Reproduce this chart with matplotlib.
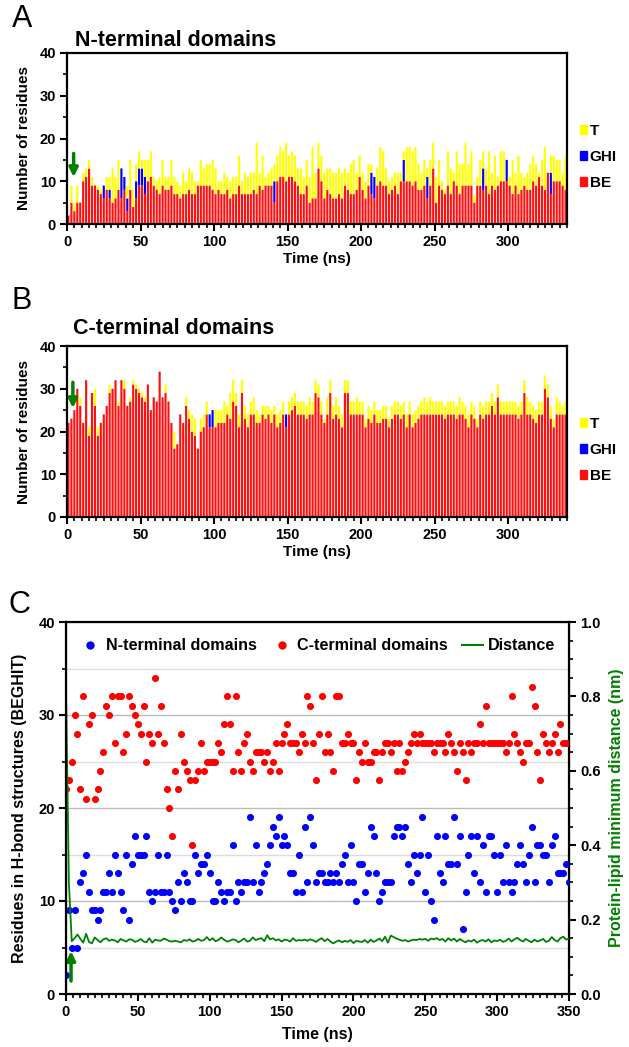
import numpy as np
import matplotlib
matplotlib.use('Agg')
import matplotlib.pyplot as plt
from matplotlib.patches import Patch
from matplotlib.lines import Line2D

plt.rcParams['font.family'] = ['Liberation Sans', 'DejaVu Sans']
plt.rcParams['font.weight'] = 'bold'
plt.rcParams['axes.labelweight'] = 'bold'

# one frame every 2 ns, 0..350 ns
time = np.arange(0, 351, 2)

# residues in H-bond structures (BEGHIT)
n_total = [2, 9, 5, 9, 5, 12, 13, 15, 11, 9,
           9, 8, 9, 11, 11, 13, 11, 15, 13, 11,
           9, 15, 8, 14, 17, 15, 15, 15, 17, 11,
           10, 11, 15, 11, 11, 15, 11, 10, 9, 12,
           10, 13, 12, 10, 10, 15, 13, 14, 14, 15,
           13, 10, 10, 12, 11, 10, 11, 11, 16, 10,
           12, 11, 12, 12, 19, 12, 16, 11, 12, 13,
           14, 16, 18, 17, 19, 16, 17, 16, 13, 13,
           11, 15, 11, 18, 12, 19, 16, 12, 13, 13,
           12, 12, 13, 12, 13, 12, 14, 15, 12, 16,
           12, 10, 14, 14, 11, 13, 18, 17, 13, 10,
           11, 12, 12, 12, 17, 18, 18, 17, 18, 14,
           12, 15, 13, 15, 19, 11, 15, 10, 8, 17,
           13, 12, 17, 14, 14, 19, 14, 17, 7, 11,
           15, 17, 13, 17, 12, 16, 11, 17, 17, 15,
           11, 15, 12, 16, 12, 11, 12, 14, 16, 14,
           12, 15, 18, 12, 16, 16, 15, 15, 12, 16,
           17, 13, 13, 13, 14, 12]

c_total = [22, 23, 25, 30, 28, 22, 32, 21, 29, 30,
           21, 22, 24, 26, 31, 30, 32, 27, 32, 32,
           26, 28, 32, 31, 30, 29, 28, 31, 25, 28,
           27, 34, 28, 31, 27, 22, 20, 17, 24, 22,
           28, 25, 24, 23, 16, 23, 24, 27, 24, 25,
           25, 25, 25, 27, 26, 29, 32, 29, 24, 32,
           26, 24, 27, 28, 25, 24, 26, 26, 26, 25,
           26, 24, 25, 27, 24, 27, 28, 29, 27, 27,
           27, 26, 28, 27, 32, 31, 27, 23, 28, 32,
           26, 28, 26, 24, 32, 32, 27, 27, 28, 27,
           27, 23, 26, 25, 27, 25, 25, 26, 26, 23,
           26, 27, 27, 26, 27, 24, 27, 24, 25, 26,
           27, 28, 27, 28, 27, 27, 27, 27, 26, 27,
           27, 27, 26, 28, 27, 26, 24, 27, 26, 23,
           27, 26, 27, 27, 29, 27, 31, 27, 27, 27,
           27, 27, 27, 26, 27, 32, 28, 27, 26, 25,
           27, 27, 33, 31, 26, 23, 28, 27, 26, 27,
           28, 26, 29, 27, 27, 27]

# protein-lipid minimum distance (nm)
distance = [0.82, 0.30, 0.142, 0.150, 0.160, 0.148, 0.138, 0.162, 0.140, 0.136,
            0.152, 0.145, 0.139, 0.147, 0.150, 0.143, 0.146, 0.144, 0.139, 0.148,
            0.144, 0.141, 0.147, 0.146, 0.140, 0.143, 0.148, 0.141, 0.139, 0.150,
            0.138, 0.146, 0.144, 0.143, 0.149, 0.146, 0.142, 0.141, 0.143, 0.141,
            0.139, 0.145, 0.143, 0.147, 0.141, 0.143, 0.148, 0.143, 0.145, 0.153,
            0.144, 0.150, 0.142, 0.145, 0.152, 0.146, 0.141, 0.143, 0.147, 0.145,
            0.139, 0.144, 0.149, 0.141, 0.143, 0.152, 0.145, 0.148, 0.150, 0.142,
            0.158, 0.147, 0.150, 0.144, 0.147, 0.141, 0.146, 0.145, 0.141, 0.150,
            0.143, 0.145, 0.144, 0.146, 0.143, 0.147, 0.144, 0.140, 0.146, 0.150,
            0.142, 0.148, 0.141, 0.136, 0.141, 0.144, 0.139, 0.143, 0.140, 0.145,
            0.137, 0.143, 0.141, 0.140, 0.145, 0.138, 0.146, 0.140, 0.144, 0.149,
            0.142, 0.154, 0.138, 0.157, 0.153, 0.149, 0.146, 0.143, 0.145, 0.141,
            0.144, 0.146, 0.145, 0.148, 0.146, 0.148, 0.143, 0.149, 0.147, 0.150,
            0.145, 0.148, 0.141, 0.150, 0.144, 0.149, 0.141, 0.148, 0.143, 0.139,
            0.144, 0.141, 0.146, 0.138, 0.143, 0.145, 0.141, 0.147, 0.139, 0.144,
            0.142, 0.146, 0.140, 0.143, 0.149, 0.141, 0.147, 0.151, 0.145, 0.141,
            0.148, 0.143, 0.139, 0.146, 0.141, 0.144, 0.148, 0.140, 0.143, 0.153,
            0.145, 0.141, 0.150, 0.154, 0.146, 0.149]

# BE residues per frame (bar panels cover 0..338 ns)
n_be = [2, 5, 3, 5, 5, 10, 11, 13, 9, 9,
        8, 7, 6, 8, 6, 5, 6, 8, 6, 8,
        3, 8, 4, 6, 9, 9, 7, 10, 11, 9,
        8, 7, 9, 8, 8, 9, 7, 7, 6, 7,
        7, 8, 7, 7, 9, 9, 9, 9, 9, 8,
        7, 8, 7, 7, 8, 6, 7, 7, 9, 7,
        7, 7, 7, 8, 7, 9, 8, 9, 9, 9,
        5, 10, 11, 11, 10, 11, 11, 10, 9, 7,
        7, 9, 5, 6, 6, 13, 10, 6, 8, 7,
        6, 6, 7, 6, 9, 8, 7, 7, 8, 11,
        8, 6, 9, 7, 6, 9, 10, 9, 9, 7,
        8, 9, 7, 10, 10, 10, 10, 9, 10, 8,
        8, 9, 6, 9, 13, 5, 9, 8, 7, 9,
        7, 10, 9, 7, 9, 9, 9, 9, 5, 9,
        9, 8, 9, 7, 9, 8, 9, 10, 10, 10,
        9, 7, 9, 7, 8, 9, 8, 8, 10, 9,
        11, 9, 8, 12, 7, 10, 10, 10, 9, 8]

c_be = [22, 23, 25, 30, 26, 22, 32, 19, 29, 26,
        19, 22, 24, 26, 29, 30, 32, 26, 32, 30,
        26, 27, 31, 30, 29, 28, 27, 31, 25, 28,
        27, 34, 28, 29, 27, 22, 16, 17, 24, 22,
        26, 23, 20, 19, 16, 20, 21, 24, 21, 21,
        21, 22, 22, 22, 24, 23, 27, 26, 21, 29,
        23, 21, 24, 24, 22, 22, 24, 23, 24, 22,
        24, 21, 22, 24, 21, 24, 25, 26, 24, 24,
        24, 23, 24, 24, 29, 28, 24, 22, 24, 29,
        23, 24, 23, 21, 29, 29, 24, 24, 24, 24,
        24, 21, 23, 22, 24, 22, 22, 23, 23, 21,
        23, 24, 24, 23, 24, 21, 24, 21, 22, 23,
        24, 24, 24, 24, 24, 24, 24, 24, 23, 24,
        24, 24, 23, 24, 24, 23, 21, 24, 23, 21,
        24, 23, 24, 24, 26, 24, 28, 24, 24, 24,
        24, 24, 24, 23, 24, 29, 24, 24, 23, 22,
        24, 24, 30, 28, 23, 21, 24, 24, 24, 24]

# frames with G/H/I helices (frame index, residues)
n_ghi_frame = [12, 14, 18, 19, 20, 23, 24, 25, 26, 70, 103, 104, 114, 122, 141, 149, 164]
n_ghi_count = [3, 2, 7, 3, 3, 4, 4, 4, 4, 5, 5, 5, 5, 5, 5, 5, 5]
c_ghi_frame = [48, 49, 74]
c_ghi_count = [3, 4, 3]

green = '#008000'
arrow_kw = dict(arrowstyle='-|>', color=green, lw=2.5, mutation_scale=13, shrinkA=0, shrinkB=0)


def style_axis(ax, xmax, xlab_max):
    ax.set_xlim(0, xmax)
    ax.set_ylim(0, 40)
    ax.set_xticks(np.arange(0, xlab_max + 1, 50))
    ax.set_xticks(np.arange(0, xmax + 1, 5), minor=True)
    ax.set_yticks(np.arange(0, 41, 10))
    ax.set_yticks(np.arange(0, 41, 5), minor=True)
    ax.tick_params(which='major', length=5, width=1.5, labelsize=10.5, pad=3)
    ax.tick_params(which='minor', length=3, width=1.2)
    for s in ax.spines.values():
        s.set_linewidth(1.6)


def bar_panel(ax, total, be, ghi_frame, ghi_count):
    nb = len(be)
    x = time[:nb] + 1
    be = np.array(be, dtype=float)
    ghi = np.zeros(nb)
    ghi[ghi_frame] = ghi_count
    t = np.clip(np.array(total[:nb]) - be - ghi, 0, None)
    kw = dict(width=1.45, linewidth=0, snap=False)
    ax.bar(x, be, color='#ff1010', **kw)
    ax.bar(x, ghi, bottom=be, color='#0000ff', **kw)
    ax.bar(x, t, bottom=be + ghi, color='#ffff00', **kw)
    style_axis(ax, 340, 300)
    ax.set_ylabel('Number of residues', fontsize=11, labelpad=6)
    ax.set_xlabel('Time (ns)', fontsize=11, labelpad=2)
    handles = [Patch(color='#ffff00'), Patch(color='#0000ff'), Patch(color='#ff1010')]
    ax.legend(handles, ['T', 'GHI', 'BE'], loc='center left', bbox_to_anchor=(1.01, 0.392),
              frameon=False, fontsize=11, handlelength=0.5, handleheight=0.5,
              handletextpad=0.15, labelspacing=0.8, borderpad=0)


fig = plt.figure(figsize=(6.29, 10.47), dpi=100)

axA = fig.add_axes([67 / 629, 1 - 224 / 1047, 500 / 629, 171 / 1047])
bar_panel(axA, n_total, n_be, n_ghi_frame, n_ghi_count)
axA.annotate('', xy=(4.5, 11), xytext=(4.5, 16.5), arrowprops=arrow_kw)

axB = fig.add_axes([67 / 629, 1 - 517 / 1047, 500 / 629, 171 / 1047])
bar_panel(axB, c_total, c_be, c_ghi_frame, c_ghi_count)
axB.annotate('', xy=(4, 25.5), xytext=(4, 31.5), arrowprops=arrow_kw)

fig.text(12 / 629, 1 - 19 / 1047, 'A', fontsize=22, fontweight='normal', va='center')
fig.text(75 / 629, 1 - 41 / 1047, 'N-terminal domains', fontsize=15.5, va='center')
fig.text(12 / 629, 1 - 301 / 1047, 'B', fontsize=22, fontweight='normal', va='center')
fig.text(73 / 629, 1 - 329 / 1047, 'C-terminal domains', fontsize=15.5, va='center')
fig.text(8 / 629, 1 - 605 / 1047, 'C', fontsize=22, fontweight='normal', va='center')

# panel C
axC = fig.add_axes([66 / 629, 1 - 994 / 1047, 503 / 629, 372 / 1047])
for yv in [5, 15, 25, 35]:
    axC.axhline(yv, color='#dddddd', lw=1.0, zorder=0)
for yv in [10, 20, 30]:
    axC.axhline(yv, color='#bbbbbb', lw=1.0, zorder=0)
axC.scatter(time, n_total, s=26, color='#0000ff', zorder=3, linewidths=0)
axC.scatter(time, c_total, s=26, color='#ff0000', zorder=3, linewidths=0)
style_axis(axC, 350, 350)
axC.set_ylabel('Residues in H-bond structures (BEGHIT)', fontsize=11.5, labelpad=8)
axC.set_xlabel('Time (ns)', fontsize=11.5, labelpad=6)
axC.annotate('', xy=(3.5, 4.6), xytext=(3.5, 1.4), arrowprops=arrow_kw)

axD = axC.twinx()
axD.plot(time, distance, color=green, lw=1.3)
axD.set_ylim(0, 1.0)
axD.set_yticks(np.arange(0, 1.01, 0.2))
axD.set_yticks(np.arange(0, 1.01, 0.05), minor=True)
axD.set_yticklabels(['%.1f' % v for v in np.arange(0, 1.01, 0.2)])
axD.tick_params(which='major', length=5, width=1.5, labelsize=10.5, pad=3)
axD.tick_params(which='minor', length=3, width=1.2)
axD.set_ylabel('Protein-lipid minimum distance (nm)', fontsize=11.5, color=green, labelpad=6)

handles = [Line2D([], [], marker='o', ls='', color='#0000ff', markersize=5),
           Line2D([], [], marker='o', ls='', color='#ff0000', markersize=5),
           Line2D([], [], color=green, lw=1.5)]
axC.legend(handles, ['N-terminal domains', 'C-terminal domains', 'Distance'],
           loc='upper center', bbox_to_anchor=(0.5, 0.995), ncol=3, frameon=False,
           fontsize=11.6, handlelength=1.3, handletextpad=0.3, columnspacing=0.9)

plt.savefig('out.png', dpi=100)
